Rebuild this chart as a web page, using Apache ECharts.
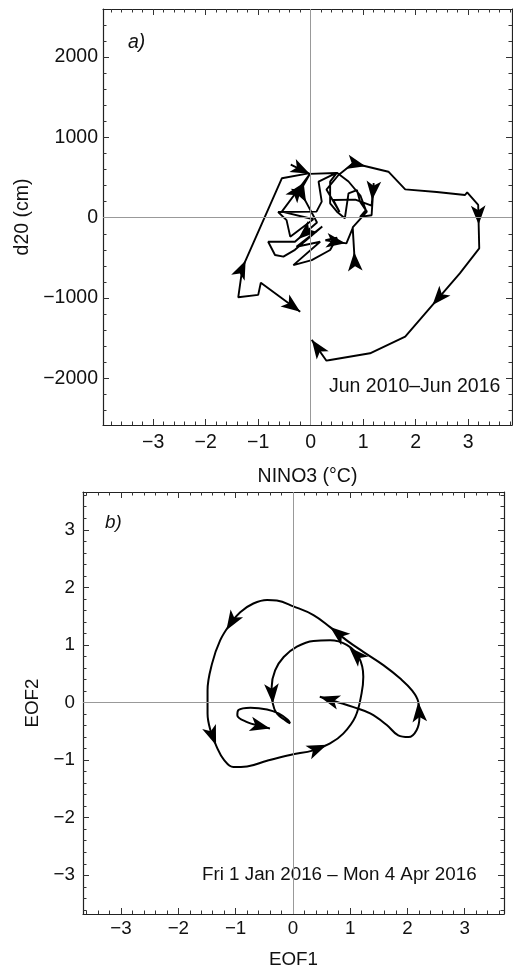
<!DOCTYPE html>
<html>
<head>
<meta charset="utf-8">
<script src="https://cdn.jsdelivr.net/npm/echarts@6/dist/echarts.min.js"></script>
<style>
  html, body { margin: 0; padding: 0; background: #fff; }
  #main { width: 513px; height: 970px; }
</style>
</head>
<body>
<div id="main"></div>
<script>
// panel a: monthly NINO3 / d20, Jun 2010 - Jun 2016
const nino3 = [-0.20, -0.95, -1.00, -1.38, -1.30, -0.55, -0.04, -0.38, -0.02, 0.48,
    0.15, 0.21, 0.11, -0.62, -0.46, -0.39, 0.05, -0.55, -0.02, -0.20,
    0.12, -0.30, -0.81, -0.68, -0.52, -0.30, 0.22, -0.27, 0.18, -0.33,
    0.02, 0.37, 0.50, 0.28, 0.68, 0.80, 0.84, 0.80, 1.07, 0.94,
    0.88, 0.72, 0.65, 0.50, 0.37, 0.37, 0.50, 0.72, 0.95, 1.05,
    0.94, 1.16, 1.20, 1.16, 0.85, 0.43, 0.55, 0.30, 0.53, 0.81,
    1.48, 1.80, 2.40, 2.94, 2.98, 3.19, 3.21, 2.84, 1.80, 1.13,
    0.37, 0.30, 0.02]
const d20 = [-1170, -810, -960, -990, -620, 490, 552, 660, 545, 555,
    448, 200, 75, 70, -30, -236, -20, 75, 540, 330,
    -60, -300, -300, -464, -485, -400, -110, -361, -300, -590,
    -527, -402, -250, -280, -320, -130, -560, -120, 75, 200,
    344, 303, -8, 75, 178, 448, 560, 450, 270, 95,
    10, 30, 430, 150, 225, 220, 70, 350, 531, 677,
    572, 352, 320, 282, 315, 158, -381, -692, -1480, -1687,
    -1770, -1779, -1520]
// arrowheads: [from index, to index, fraction where the tip sits]
const arrowsA = [[1, 0, 1], [4, 5, 0.08], [7, 8, 1], [17, 18, 0.75], [19, 20, 0.35],
    [20, 21, 0.85], [33, 34, 0.95], [36, 37, 0.3], [52, 53, 0.75], [59, 60, 0.35],
    [65, 66, 0.45], [67, 68, 0.5], [71, 72, 1]]

// panel b: daily EOF1 / EOF2, 1 Jan - 4 Apr 2016
const eof1 = [0.47, 0.77, 1.06, 1.35, 1.64, 1.84, 2.02, 2.16, 2.21, 2.19,
    2.08, 1.87, 1.58, 1.23, 0.94, 0.65, 0.36, 0.01, -0.28, -0.45,
    -0.69, -0.92, -1.09, -1.27, -1.41, -1.49, -1.49, -1.44, -1.33, -1.20,
    -1.04, -0.80, -0.45, -0.05, 0.36, 0.65, 0.88, 1.09, 1.20, 1.23,
    1.15, 0.94, 0.65, 0.36, 0.07, -0.16, -0.31, -0.37, -0.35, -0.28,
    -0.13, -0.05, -0.09, -0.25, -0.45, -0.74, -0.95, -0.97, -0.80, -0.57,
    -0.40]
const eof2 = [0.10, 0.01, -0.08, -0.19, -0.39, -0.57, -0.60, -0.48, -0.25, 0.01,
    0.21, 0.42, 0.65, 0.88, 1.08, 1.31, 1.52, 1.67, 1.77, 1.78,
    1.72, 1.57, 1.37, 1.08, 0.68, 0.21, -0.19, -0.48, -0.77, -1.00,
    -1.12, -1.11, -1.01, -0.91, -0.83, -0.71, -0.54, -0.25, 0.16, 0.45,
    0.79, 1.00, 1.08, 1.07, 0.97, 0.79, 0.56, 0.27, -0.02, -0.19,
    -0.31, -0.36, -0.30, -0.19, -0.12, -0.09, -0.13, -0.22, -0.34, -0.41,
    -0.45]
const arrowsB = [[1, 0, 1], [8, 9, 1], [14, 15, 1], [22, 23, 0.4], [27, 28, 0.9],
    [34, 35, 0.8], [40, 41, 0.8], [47, 48, 1], [59, 60, 1]]

const xTicksA = [-3, -2, -1, 0, 1, 2, 3]
const yTicksA = [-2000, -1000, 0, 1000, 2000]
const ticksB = [-3, -2, -1, 0, 1, 2, 3]

const FONT = "'Liberation Sans', Arial, Helvetica, sans-serif"
const TXT = "#111"

function fmt(v) {
    return v < 0 ? "\u2212" + Math.abs(v) : String(v)
}
function minorTicks(min, max, step) {
    let out = []
    for (let k = Math.ceil(min / step); k <= Math.floor(max / step); k++) {
        out.push(Math.round(k * step * 1000) / 1000)
    }
    return out
}

// four axes per side pair: labelled major, minor, opposite major, opposite minor
function frameAxes(dim, grid, min, max, majors, minorStep, fontSize, margin, name, nameGap) {
    const sides = dim === "x" ? ["bottom", "top"] : ["left", "right"]
    const minors = minorTicks(min, max, minorStep)
    let list = []
    sides.forEach((pos, si) => {
        ;[true, false].forEach((major) => {
            let ax = {
                type: "value",
                gridIndex: grid,
                position: pos,
                min: min,
                max: max,
                splitLine: { show: false },
                axisLine: { show: major, onZero: false, lineStyle: { color: "#222", width: 1.2 } },
                axisTick: {
                    show: true,
                    inside: true,
                    length: major ? 6 : 3.5,
                    customValues: major ? majors : minors,
                    lineStyle: { color: "#333", width: 1 },
                },
                axisLabel: { show: false },
            }
            if (major && si === 0) {
                ax.axisLabel = {
                    show: true,
                    customValues: majors,
                    formatter: fmt,
                    margin: margin,
                    color: TXT,
                    fontSize: fontSize,
                    fontFamily: FONT,
                }
                ax.name = name
                ax.nameLocation = "middle"
                ax.nameGap = nameGap
                ax.nameTextStyle = { color: TXT, fontSize: fontSize, fontFamily: FONT }
            }
            list.push(ax)
        })
    })
    return list
}

const zeroLines = {
    silent: true,
    symbol: "none",
    label: { show: false },
    lineStyle: { color: "#999", width: 1, type: "solid" },
    data: [{ xAxis: 0 }, { yAxis: 0 }],
}

const chart = echarts.init(document.getElementById("main"))
chart.setOption({
    animation: false,
    backgroundColor: "#fff",
    grid: [
        { left: 103, top: 9, width: 409, height: 416 },
        { left: 83, top: 492, width: 421, height: 422 },
    ],
    xAxis: [
        ...frameAxes("x", 0, -3.956, 3.834, xTicksA, 0.2, 19.5, 8, "NINO3 (°C)", 42),
        ...frameAxes("x", 1, -3.665, 3.687, ticksB, 0.2, 18.8, 5, "EOF1", 36),
    ],
    yAxis: [
        ...frameAxes("y", 0, -2579, 2596, yTicksA, 200, 19.5, 5, "d20 (cm)", 68),
        ...frameAxes("y", 1, -3.672, 3.656, ticksB, 0.2, 18.8, 8, "EOF2", 38),
    ],
    graphic: [
        { type: "text", x: 128, y: 43, style: { text: "a)", font: "italic 19.5px " + FONT, fill: TXT, verticalAlign: "middle" } },
        { type: "text", x: 329, y: 387, style: { text: "Jun 2010\u2013Jun 2016", font: "19.5px " + FONT, fill: TXT, verticalAlign: "middle" } },
        { type: "text", x: 105, y: 523, style: { text: "b)", font: "italic 18.8px " + FONT, fill: TXT, verticalAlign: "middle" } },
        { type: "text", x: 202, y: 875, style: { text: "Fri 1 Jan 2016 \u2013 Mon 4 Apr 2016", font: "18.8px " + FONT, fill: TXT, verticalAlign: "middle" } },
    ],
    series: [
        { type: "line", xAxisIndex: 0, yAxisIndex: 0, data: [], z: 1, markLine: zeroLines },
        { type: "line", xAxisIndex: 4, yAxisIndex: 4, data: [], z: 1, markLine: zeroLines },
        {
            id: "pathA",
            type: "line",
            xAxisIndex: 0,
            yAxisIndex: 0,
            data: nino3.map((v, i) => [v, d20[i]]),
            showSymbol: false,
            z: 3,
            lineStyle: { color: "#000", width: 1.9 },
        },
        {
            id: "pathB",
            type: "line",
            xAxisIndex: 4,
            yAxisIndex: 4,
            smooth: 0.4,
            data: eof1.map((v, i) => [v, eof2[i]]),
            showSymbol: false,
            z: 3,
            lineStyle: { color: "#000", width: 2 },
        },
    ],
})

// arrowheads follow the direction of the path segment they sit on
// (the echarts arrow symbol has its tip on the data point)
function arrowPoints(grid, xs, ys, specs) {
    return specs.map(([a, b, t]) => {
        const pa = chart.convertToPixel({ gridIndex: grid }, [xs[a], ys[a]])
        const pb = chart.convertToPixel({ gridIndex: grid }, [xs[b], ys[b]])
        const dx = pb[0] - pa[0]
        const dy = pb[1] - pa[1]
        return {
            value: [xs[a] + t * (xs[b] - xs[a]), ys[a] + t * (ys[b] - ys[a])],
            symbolRotate: (Math.atan2(-dy, dx) * 180) / Math.PI - 90,
        }
    })
}

chart.setOption({
    series: [
        {
            id: "arrowsA",
            type: "scatter",
            xAxisIndex: 0,
            yAxisIndex: 0,
            symbol: "arrow",
            symbolSize: [11, 19],
            z: 4,
            itemStyle: { color: "#000", opacity: 1 },
            data: arrowPoints(0, nino3, d20, arrowsA),
        },
        {
            id: "arrowsB",
            type: "scatter",
            xAxisIndex: 4,
            yAxisIndex: 4,
            symbol: "arrow",
            symbolSize: [11, 20],
            z: 4,
            itemStyle: { color: "#000", opacity: 1 },
            data: arrowPoints(1, eof1, eof2, arrowsB),
        },
    ],
})

window.addEventListener("resize", function () {
    chart.resize()
})
</script>
</body>
</html>
